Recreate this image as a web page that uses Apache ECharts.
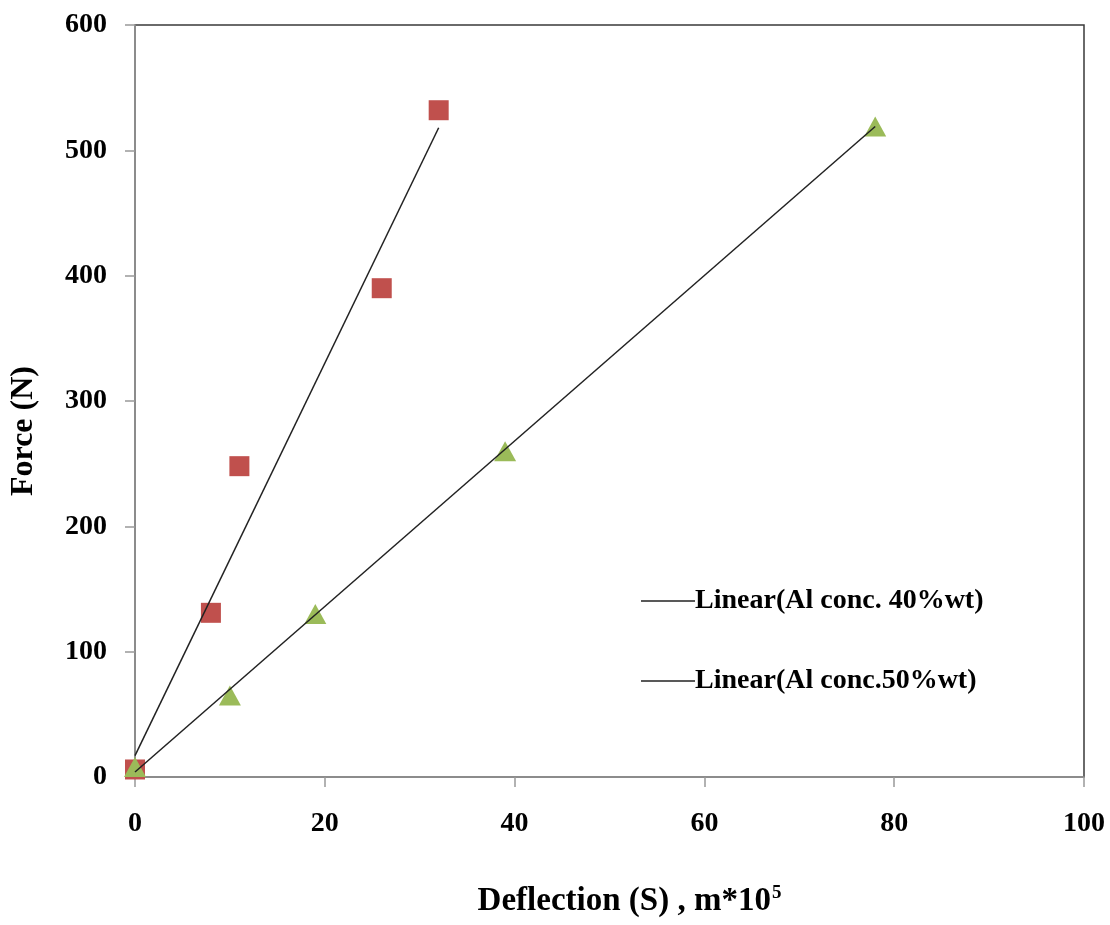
<!DOCTYPE html>
<html>
<head>
<meta charset="utf-8">
<script src="https://cdn.jsdelivr.net/npm/echarts@6/dist/echarts.min.js"></script>
<style>
  html, body { margin: 0; padding: 0; background: #fff; }
  #chart { width: 1110px; height: 925px; }
</style>
</head>
<body>
<div id="chart"></div>
<script>
// measured points, Al conc. 40%wt (red squares)
var defl40 = [0, 8, 11, 26, 32];
var force40 = [6, 131, 248, 390, 532];
// measured points, Al conc. 50%wt (green triangles)
var defl50 = [0, 10, 19, 39, 78];
var force50 = [8, 65, 130, 260, 519];
// trend line ends
var trend40X = [0, 32];
var trend40Y = [17, 518];
var trend50X = [0, 78];
var trend50Y = [4, 519];
var legendNames = ['Linear(Al conc. 40%wt)', 'Linear(Al conc.50%wt)'];

function pairs(xs, ys) {
  var out = [];
  for (var i = 0; i < xs.length; i++) { out.push([xs[i], ys[i]]); }
  return out;
}

var serif = '"Liberation Serif", "DejaVu Serif", serif';
var chart = echarts.init(document.getElementById('chart'));

chart.setOption({
  animation: false,
  grid: {
    left: 135, top: 25, right: 26, bottom: 148,
    outerBoundsMode: 'none',
    containLabel: false,
    show: true, borderColor: '#3a3a3a', borderWidth: 1.5
  },
  legend: {
    orient: 'vertical',
    left: 636, top: 582,
    itemGap: 52,
    itemWidth: 54, itemHeight: 1.5,
    icon: 'rect',
    data: legendNames,
    textStyle: { fontFamily: serif, fontWeight: 'bold', fontSize: 28, color: '#000', padding: [0, 0, 0, -5] }
  },
  xAxis: {
    type: 'value', min: 0, max: 100, interval: 20,
    name: '{a|Deflection (S) , m*10}{s|5}',
    nameLocation: 'middle', nameGap: 107,
    nameTextStyle: {
      padding: [0, 0, 0, 40],
      rich: {
        a: { fontFamily: serif, fontWeight: 'bold', fontSize: 33, color: '#000' },
        s: { fontFamily: serif, fontWeight: 'bold', fontSize: 19, color: '#000', verticalAlign: 'top', padding: [0, 0, 16, 1] }
      }
    },
    axisLine: { lineStyle: { color: '#999', width: 1.5 } },
    axisTick: { inside: false, length: 10, lineStyle: { color: '#999', width: 1.5 } },
    axisLabel: { margin: 33, fontFamily: serif, fontWeight: 'bold', fontSize: 28, color: '#000' },
    splitLine: { show: false }
  },
  yAxis: {
    type: 'value', min: 0, max: 600, interval: 100,
    name: 'Force (N)',
    nameLocation: 'middle', nameGap: 95, nameRotate: 90,
    nameTextStyle: { fontFamily: serif, fontWeight: 'bold', fontSize: 32, color: '#000', padding: [0, 60, 0, 0] },
    axisLine: { lineStyle: { color: '#999', width: 1.5 } },
    axisTick: { inside: false, length: 10, lineStyle: { color: '#999', width: 1.5 } },
    axisLabel: { margin: 28, fontFamily: serif, fontWeight: 'bold', fontSize: 28, color: '#000' },
    splitLine: { show: false }
  },
  series: [
    {
      name: legendNames[0], type: 'line', data: pairs(trend40X, trend40Y),
      showSymbol: false, symbol: 'none', z: 3,
      lineStyle: { color: '#222', width: 1.5 }, itemStyle: { color: '#222' }
    },
    {
      name: legendNames[1], type: 'line', data: pairs(trend50X, trend50Y),
      showSymbol: false, symbol: 'none', z: 3,
      lineStyle: { color: '#222', width: 1.5 }, itemStyle: { color: '#222' }
    },
    {
      name: 'Al conc. 40%wt', type: 'scatter', data: pairs(defl40, force40),
      symbol: 'rect', symbolSize: 20, z: 2,
      itemStyle: { color: '#C0504D', opacity: 1 }
    },
    {
      name: 'Al conc. 50%wt', type: 'scatter', data: pairs(defl50, force50),
      symbol: 'triangle', symbolSize: [22, 20], z: 2,
      itemStyle: { color: '#9BBB59', opacity: 1 }
    }
  ]
});
</script>
</body>
</html>
